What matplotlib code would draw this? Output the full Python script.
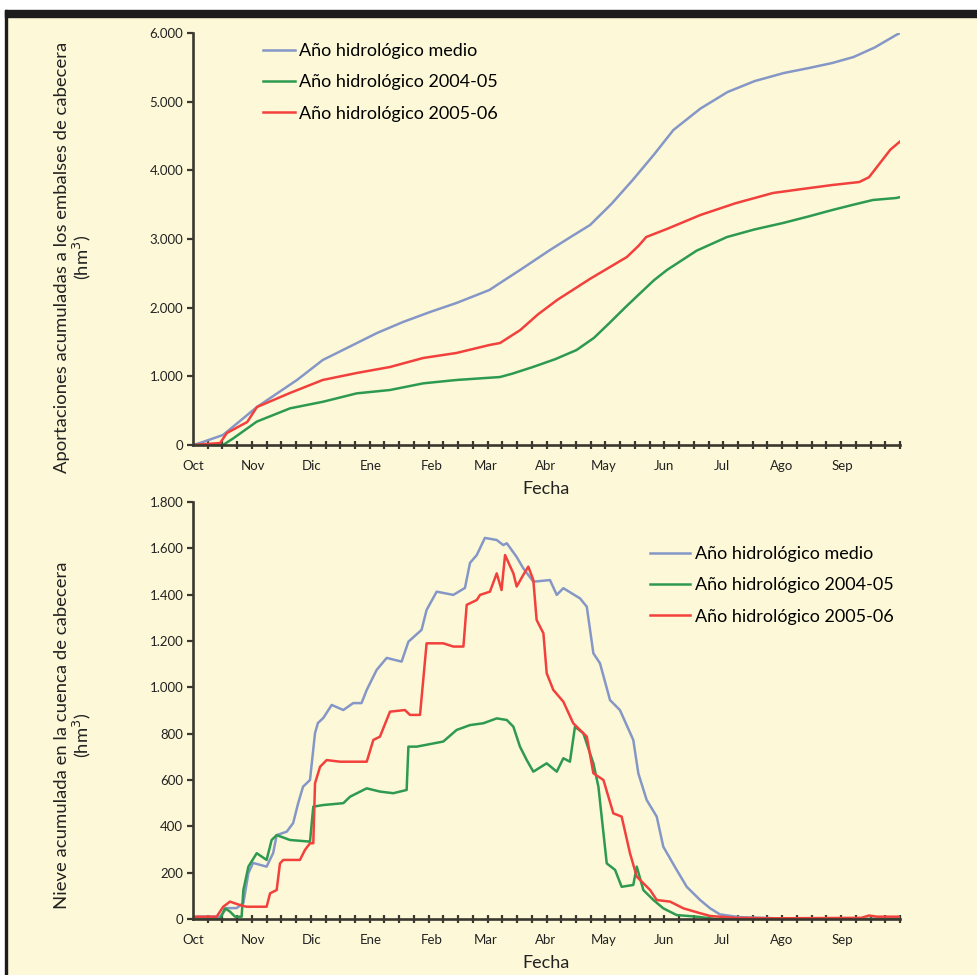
import matplotlib
matplotlib.use("Agg")
import matplotlib.pyplot as plt
import numpy as np
from matplotlib.patches import Rectangle
from matplotlib.ticker import FuncFormatter

# month starts (days since 1 Oct) and labels
month_days = [0, 31, 61, 92, 123, 151, 182, 212, 243, 273, 304, 335]
month_labels = ["Oct", "Nov", "Dic", "Ene", "Feb", "Mar", "Abr", "May", "Jun", "Jul", "Ago", "Sep"]
series_names = ["Año hidrológico medio", "Año hidrológico 2004-05", "Año hidrológico 2005-06"]

# --- accumulated inflow (hm3) ---
ap_medio_d = [0, 3.6, 15.5, 33, 53.7, 67, 79.5, 95, 108.4, 122.4, 136, 153, 158.5, 170, 184.3, 195, 205, 216,
              227, 238, 248, 262, 276, 290, 305, 318, 330, 341, 352, 363, 365]
ap_medio_v = [0, 29, 146, 553, 947, 1238, 1413, 1631, 1791, 1937, 2068, 2257, 2359, 2570, 2840, 3030, 3204, 3510,
              3859, 4230, 4587, 4900, 5141, 5300, 5417, 5490, 5563, 5650, 5790, 5971, 6000]
ap_0405_d = [0, 15.5, 20.8, 32.9, 50.1, 67.3, 84.5, 101.7, 118.9, 136.1, 153.3, 158.5, 165, 175.5, 187, 198,
             207, 215, 223, 231, 238, 244.7, 260, 275.7, 290, 304.6, 318, 330, 341, 351, 363, 365]
ap_0405_v = [0, 0, 97, 340, 534, 631, 752, 801, 898, 947, 980, 990, 1040, 1136, 1250, 1383,
             1560, 1777, 2000, 2214, 2400, 2549, 2830, 3029, 3140, 3233, 3330, 3422, 3500, 3568, 3597, 3610]
ap_0506_d = [0, 14, 17.5, 28, 33, 50, 67, 84.6, 101.7, 118.8, 136, 153, 158.5, 169, 178, 188, 205, 224, 230,
             234, 245, 262, 280, 299.4, 315, 330, 344, 349, 354.7, 360, 365]
ap_0506_v = [0, 29, 175, 335, 553, 757, 947, 1049, 1136, 1267, 1340, 1456, 1485, 1675, 1900, 2112, 2420, 2738,
             2900, 3029, 3150, 3350, 3520, 3670, 3730, 3786, 3830, 3900, 4107, 4300, 4420]

# --- accumulated snow (hm3) ---
nv_medio_d = [0, 1.9, 14, 17.4, 22.5, 26, 28.6, 31, 38, 41.4, 43.2, 48.4, 51.7, 54.3, 56.8, 60.4, 63, 64.5,
              67.3, 71.6, 77.6, 82.7, 87, 89.7, 94.8, 100, 107.7, 111.2, 118, 120.6, 125.8, 134.4, 140.4,
              143, 146.5, 150.7, 156.8, 160.2, 162, 167, 170.5, 175.7, 184.3, 187.8, 191.2, 199.8, 203.3,
              206.7, 210.1, 215.3, 220.4, 227.3, 229.9, 234.2, 239.4, 242.8, 249.7, 254.9, 261.8, 267,
              272, 282, 298, 308, 365]
nv_medio_v = [0, 10, 10, 47, 47, 69, 198, 242, 226, 285, 362, 377, 414, 500, 571, 600, 803, 846,
              868, 924, 902, 932, 932, 989, 1075, 1127, 1111, 1197, 1248, 1334, 1413, 1399, 1429,
              1537, 1571, 1645, 1636, 1614, 1622, 1564, 1514, 1456, 1463, 1399, 1428, 1384, 1348,
              1147, 1104, 945, 902, 773, 629, 514, 442, 312, 212, 139, 82, 46,
              20, 8, 4, 0, 0]
nv_0405_d = [0, 14, 16.5, 19.1, 21.7, 25.1, 26, 28.6, 32.9, 38, 40.6, 43.2, 50.1, 60.4, 62.1, 67.3, 77.6,
             81.1, 88, 89.7, 96.5, 103.4, 110.3, 111.2, 115.5, 129.2, 136.1, 143, 149.9, 156.8, 162,
             165.4, 168.8, 172.3, 175.7, 182.6, 187.8, 191.2, 194.6, 197.2, 201.5, 206.7, 209.3, 213.6,
             217.9, 221.3, 227.3, 229.1, 232.5, 237.7, 242.8, 249.7, 260, 270, 365]
nv_0405_v = [0, 0, 46, 32, 10, 10, 125, 226, 284, 255, 341, 362, 341, 334, 485, 492, 500,
             528, 557, 564, 550, 543, 557, 744, 744, 766, 816, 837, 845, 866, 859,
             830, 744, 686, 636, 672, 636, 694, 679, 830, 802, 672, 571, 240,
             212, 139, 147, 226, 125, 82, 46, 17, 10, 0, 0]
nv_0506_d = [0, 12.2, 15.6, 19.1, 24.3, 27.7, 38, 39.8, 43.2, 44.9, 46.6, 55.2, 57.8, 60.4, 62.1, 63, 65.6,
             69, 75.9, 89.7, 93.1, 96.5, 101.7, 109.4, 112, 117.2, 120.6, 129.2, 134.4, 139.6, 141.3,
             146.5, 148.2, 153.3, 156.8, 159.3, 161.1, 165.4, 167.1, 170.5, 173.1, 175.7, 177.4, 180.9,
             182.6, 186, 191.2, 196.3, 203.3, 206.7, 211.9, 217, 221.3, 225.6, 229.1, 236, 239.4, 246.3,
             253.2, 261.8, 267, 280, 300, 345, 349, 353, 365]
nv_0506_v = [10, 10, 53, 75, 60, 53, 53, 111, 125, 240, 255, 255, 298, 327, 327, 586, 657,
             686, 679, 679, 773, 787, 895, 902, 881, 881, 1190, 1190, 1176, 1176, 1356,
             1377, 1399, 1413, 1492, 1420, 1571, 1492, 1435, 1485, 1521, 1463, 1291, 1233,
             1061, 989, 938, 845, 787, 629, 600, 456, 442, 284, 183, 125, 82, 75,
             46, 25, 13, 5, 3, 5, 15, 10, 10]

c_medio = "#8597c6"
c_0405 = "#2e9a50"
c_0506 = "#f2403c"
bg = "#fdf9d8"
ink = "#3a382f"
txt = "#222222"

plt.rcParams["font.family"] = ["Lato", "DejaVu Sans"]

fig = plt.figure(figsize=(9.77, 9.75), dpi=100, facecolor=bg)
# white margin + black frame on top and left
fig.patches.append(Rectangle((0, 1 - 10 / 975), 1, 10 / 975, transform=fig.transFigure, color="white", zorder=0))
fig.patches.append(Rectangle((0, 0), 5 / 977, 1, transform=fig.transFigure, color="white", zorder=0))
fig.patches.append(Rectangle((5 / 977, 1 - 17 / 975), 1, 7 / 975, transform=fig.transFigure, color="#1c1c1c", zorder=1))
fig.patches.append(Rectangle((5 / 977, 0), 2 / 977, 1 - 10 / 975, transform=fig.transFigure, color="#1c1c1c", zorder=1))

ax1 = fig.add_axes([193 / 977, 1 - 445 / 975, 707 / 977, 412 / 975])
ax2 = fig.add_axes([193 / 977, 1 - 919 / 975, 707 / 977, 417 / 975])

thousands = FuncFormatter(lambda v, p: f"{int(v):,}".replace(",", "."))
minor_pos = np.arange(0, 366, 365 / 48)


def style(ax, ymax, ystep):
    ax.set_facecolor(bg)
    for s in ["top", "right"]:
        ax.spines[s].set_visible(False)
    for s in ["left", "bottom"]:
        ax.spines[s].set_color(ink)
        ax.spines[s].set_linewidth(1.9)
    ax.set_xlim(0, 365)
    ax.set_ylim(0, ymax)
    ax.set_yticks(np.arange(0, ymax + 1, ystep))
    ax.yaxis.set_major_formatter(thousands)
    ax.set_xticks(month_days)
    ax.set_xticklabels(month_labels)
    ax.set_xticks(minor_pos, minor=True)
    ax.tick_params(axis="x", which="major", length=0, pad=11, labelsize=9.5, colors=txt)
    ax.tick_params(axis="x", which="minor", direction="inout", length=6, width=1.6, color=ink)
    ax.tick_params(axis="y", length=4, width=1.6, color=ink, labelsize=9.5, labelcolor=txt, pad=3)
    ax.set_xlabel("Fecha", fontsize=13, labelpad=6, color=txt)


ax1.plot(ap_medio_d, ap_medio_v, color=c_medio, lw=1.8, label=series_names[0])
ax1.plot(ap_0405_d, ap_0405_v, color=c_0405, lw=1.8, label=series_names[1])
ax1.plot(ap_0506_d, ap_0506_v, color=c_0506, lw=1.8, label=series_names[2])
style(ax1, 6000, 1000)
ax1.set_ylabel("Aportaciones acumuladas a los embalses de cabecera\n(hm$^3$)", fontsize=13.3,
               color=txt, linespacing=1.05)
ax1.yaxis.set_label_coords(-0.141, 0.455)
ax1.legend(loc="upper left", bbox_to_anchor=(263 / 977, 1 - 43 / 975), bbox_transform=fig.transFigure,
           frameon=False, fontsize=13, handlelength=1.75, handletextpad=0.25, labelspacing=0.85,
           borderaxespad=0, borderpad=0)

ax2.plot(nv_medio_d, nv_medio_v, color=c_medio, lw=1.8, label=series_names[0])
ax2.plot(nv_0405_d, nv_0405_v, color=c_0405, lw=1.8, label=series_names[1])
ax2.plot(nv_0506_d, nv_0506_v, color=c_0506, lw=1.8, label=series_names[2])
style(ax2, 1800, 200)
ax2.set_ylabel("Nieve acumulada en la cuenca de cabecera\n(hm$^3$)", fontsize=13.3,
               color=txt, linespacing=1.05)
ax2.yaxis.set_label_coords(-0.141, 0.44)
ax2.legend(loc="upper left", bbox_to_anchor=(650 / 977, 1 - 546 / 975), bbox_transform=fig.transFigure,
           frameon=False, fontsize=13, handlelength=2.2, handletextpad=0.3, labelspacing=0.85,
           borderaxespad=0, borderpad=0)

fig.savefig("out.png", dpi=100, facecolor=bg)
